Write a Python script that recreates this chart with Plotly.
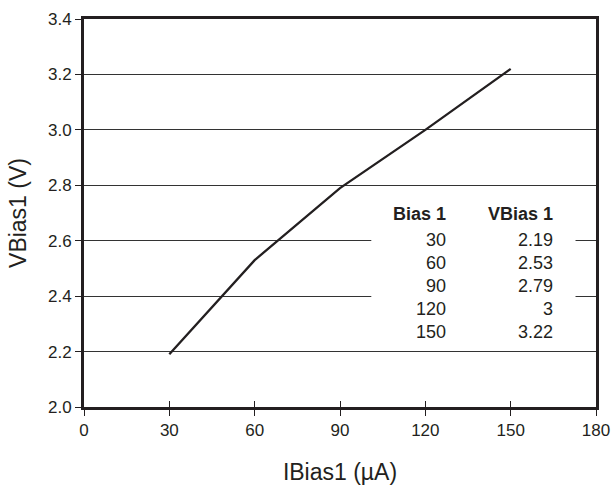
import plotly.graph_objects as go

# Data
ibias = [30, 60, 90, 120, 150]
vbias = [2.19, 2.53, 2.79, 3.00, 3.22]
vbias_labels = ["2.19", "2.53", "2.79", "3", "3.22"]
table_headers = ["Bias 1", "VBias 1"]
x_ticks = [0, 30, 60, 90, 120, 150, 180]
y_ticks = [2.0, 2.2, 2.4, 2.6, 2.8, 3.0, 3.2, 3.4]
y_ticklabels = ["2.0", "2.2", "2.4", "2.6", "2.8", "3.0", "3.2", "3.4"]

FONT = "Liberation Sans, Arial, sans-serif"
INK = "#231f20"

fig = go.Figure()
fig.add_trace(go.Scatter(x=ibias, y=vbias, mode="lines",
                         line=dict(color=INK, width=2.3), showlegend=False,
                         hoverinfo="skip"))
# invisible trace on overlay axis (for crossing tick marks)
fig.add_trace(go.Scatter(x=ibias, y=vbias, mode="lines", xaxis="x2",
                         line=dict(color="rgba(0,0,0,0)", width=0),
                         showlegend=False, hoverinfo="skip"))

# white panel behind the table (interrupts gridlines)
fig.add_shape(type="rect", xref="x", yref="y", x0=101, x1=172.8, y0=2.30, y1=2.75,
              fillcolor="white", line=dict(width=0), layer="above")

col_x = [0.710, 0.919]
header_y = 0.497
row_y0 = 0.430
row_step = 0.0592
TABLE_SIZE = 18
for cx, h in zip(col_x, table_headers):
    fig.add_annotation(x=cx, y=header_y, xref="paper", yref="paper",
                       text=f"<b>{h}</b>", showarrow=False, xanchor="right",
                       yanchor="middle", font=dict(family=FONT, size=TABLE_SIZE, color=INK))
for i, (a, b) in enumerate(zip(ibias, vbias_labels)):
    yy = row_y0 - i * row_step
    fig.add_annotation(x=col_x[0], y=yy, xref="paper", yref="paper", text=str(a),
                       showarrow=False, xanchor="right", yanchor="middle",
                       font=dict(family=FONT, size=TABLE_SIZE, color=INK))
    fig.add_annotation(x=col_x[1], y=yy, xref="paper", yref="paper", text=b,
                       showarrow=False, xanchor="right", yanchor="middle",
                       font=dict(family=FONT, size=TABLE_SIZE, color=INK))

fig.update_layout(
    width=615, height=485,
    margin=dict(l=84, r=19, t=19, b=78),
    paper_bgcolor="white", plot_bgcolor="white",
    font=dict(family=FONT, color=INK),
    xaxis=dict(range=[0, 180], tickvals=x_ticks, ticks="outside", ticklen=6,
               tickwidth=1.2, tickcolor=INK, showline=True, linewidth=2.8,
               linecolor=INK, mirror=True, showgrid=False, zeroline=False,
               automargin=False,
               tickfont=dict(size=17, color=INK),
               title=dict(text="IBias1 (µA)", font=dict(size=23, color=INK), standoff=25)),
    xaxis2=dict(range=[0, 180], tickvals=x_ticks, ticks="inside", ticklen=6,
                tickwidth=1.2, tickcolor=INK, overlaying="x", anchor="y",
                side="bottom", showticklabels=False, showline=False,
                showgrid=False, zeroline=False, automargin=False),
    yaxis=dict(range=[2.0, 3.4], tickvals=y_ticks, ticktext=y_ticklabels,
               ticks="outside", ticklen=6, tickwidth=1.2, tickcolor=INK,
               showline=True, linewidth=2.8, linecolor=INK, mirror=True,
               showgrid=True, gridcolor="#333333", gridwidth=1.2, zeroline=False,
               automargin=False,
               tickfont=dict(size=17, color=INK),
               title=dict(text="VBias1 (V)", font=dict(size=23, color=INK), standoff=16)),
)

fig.write_html("out.html", config={"displayModeBar": False},
               post_script="document.body.style.margin='0px';")
